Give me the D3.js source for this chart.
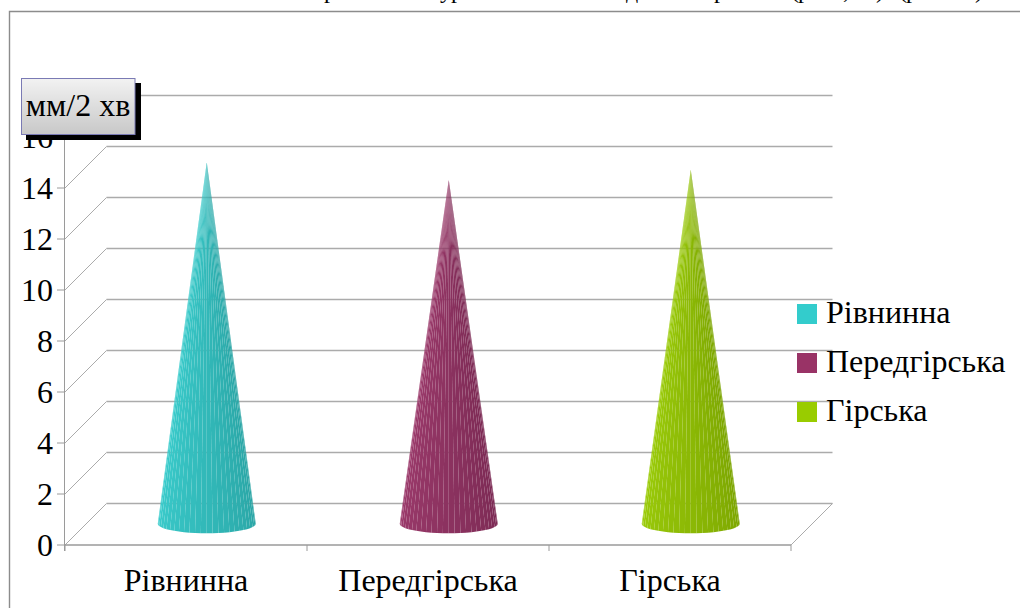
<!DOCTYPE html>
<html>
<head>
<meta charset="utf-8">
<script src="https://cdn.jsdelivr.net/npm/d3@7/dist/d3.min.js"></script>
<style>
html,body{margin:0;padding:0;background:#fff;overflow:hidden}
text{font-family:"Liberation Serif",serif;fill:#000}
</style>
</head>
<body>
<svg id="chart" width="1020" height="608"></svg>
<script>
// Chart content
const categories = ["Рівнинна", "Передгірська", "Гірська"];
const seriesNames = ["Рівнинна", "Передгірська", "Гірська"];
const seriesValues = [14.2, 13.5, 13.9];
const seriesColors = ["#33cccc", "#993366", "#99cc00"];
const yTicks = [0, 2, 4, 6, 8, 10, 12, 14, 16];
const unitLabel = "мм/2 хв";
// Heading runs off the top edge; only the lower strokes of these letters show
const headingLetters = ["р", "у", "р", "д", "р", "(", "р", ",", ")", "(", "р", ")"];

// 3D frame layout
const depth = 41.5;
const front = {left: 65, right: 791, bottom: 545, top: 137};
const coneRadius = 49, coneRy = 9.5, facetCount = 26;
const headingX = [324, 440, 451, 626, 714, 791, 798, 843, 876, 899, 906, 975];

const svg = d3.select("#chart");
const x = d3.scaleBand().domain(categories).range([front.left, front.right]);
const y = d3.scaleLinear().domain([0, 16]).range([front.bottom, front.top]);

// Heading and outer frame
svg.append("g").selectAll("text").data(headingLetters).join("text")
  .attr("x", (d, i) => headingX[i]).attr("y", -2)
  .attr("font-size", 24).text(d => d);
svg.append("path").attr("d", "M9.5,608V11.5H1020")
  .attr("fill", "none").attr("stroke", "#8c8c8c").attr("stroke-width", 1.4);

// Back wall gridlines and the diagonals that join them to the value axis
const grid = svg.append("g").attr("fill", "none").attr("stroke", "#ababab");
grid.selectAll("path.back").data(yTicks).join("path").attr("class", "back")
  .attr("stroke-width", 1.4)
  .attr("d", d => `M${front.left + depth},${y(d) - depth}H${front.right + depth}`);
grid.selectAll("path.side").data(yTicks).join("path").attr("class", "side")
  .attr("stroke-width", 1)
  .attr("d", d => `M${front.left},${y(d)}l${depth},${-depth}`);
grid.append("path").attr("stroke-width", 1)
  .attr("d", `M${front.right},${front.bottom}l${depth},${-depth}`);

// Value axis, floor edge and tick marks
const axes = svg.append("g").attr("fill", "none").attr("stroke", "#9a9a9a");
axes.append("path").attr("stroke-width", 1)
  .attr("d", `M64.5,${front.top}V${front.bottom + 6}`);
axes.append("path").attr("stroke-width", 1.6)
  .attr("d", `M${front.left},${front.bottom}H${front.right}`);
axes.selectAll("path.ytick").data(yTicks).join("path").attr("class", "ytick")
  .attr("stroke-width", 1).attr("d", d => `M57,${y(d)}H64`);
const xEdges = categories.map(c => x(c)).concat(front.right);
axes.selectAll("path.xtick").data(xEdges).join("path").attr("class", "xtick")
  .attr("stroke-width", 1).attr("d", d => `M${d},${front.bottom}V${front.bottom + 6}`);

// Axis labels
svg.append("g").selectAll("text").data(yTicks).join("text")
  .attr("x", 53).attr("y", d => y(d) + 11).attr("text-anchor", "end")
  .attr("font-size", 32).text(d => d);
svg.append("g").selectAll("text").data(categories).join("text")
  .attr("x", d => x(d) + x.bandwidth() / 2).attr("y", 591)
  .attr("text-anchor", "middle").attr("font-size", 32).text(d => d);

// Cones are faceted: each facet gets its own shade, and antialiased seams show through
const defs = svg.append("defs");
const boxGrad = defs.append("linearGradient").attr("id", "boxFill")
  .attr("x1", 0).attr("y1", 0).attr("x2", 0).attr("y2", 1);
boxGrad.append("stop").attr("offset", 0).attr("stop-color", "#f2f2f2");
boxGrad.append("stop").attr("offset", 1).attr("stop-color", "#c8c8c8");

const shade = (base, t) => {
  const lighter = d3.interpolateRgb(base, "#ffffff")(0.04);
  const darker = d3.interpolateRgb(base, "#000000")(0.2);
  return d3.interpolateRgb(lighter, darker)(t);
};
const facetIdx = d3.range(facetCount);
const cones = svg.append("g").selectAll("g").data(seriesValues).join("g");
cones.each(function (v, k) {
  const cx = x(categories[k]) + x.bandwidth() / 2 + depth / 2;
  const cy = front.bottom - depth / 2 - 0.5;
  const tipY = y(v) - depth / 2;
  d3.select(this).selectAll("path").data(facetIdx).join("path")
    .attr("fill", i => shade(seriesColors[k], (i + 0.5) / facetCount))
    .attr("d", i => {
      // Walk the front half of the base ellipse from left to right
      const a0 = Math.PI * (1 - i / facetCount), a1 = Math.PI * (1 - (i + 1) / facetCount);
      const p = a => [cx + coneRadius * Math.cos(a), cy + coneRy * Math.sin(a)];
      const [x0, y0] = p(a0), [x1, y1] = p(a1);
      return `M${cx},${tipY}L${x0},${y0}L${x1},${y1}Z`;
    });
});

// Unit label box with hard shadow
svg.append("rect").attr("x", 26).attr("y", 83).attr("width", 115).attr("height", 57).attr("fill", "#000");
svg.append("rect").attr("x", 21.5).attr("y", 78.5).attr("width", 113.5).attr("height", 56)
  .attr("fill", "url(#boxFill)").attr("stroke", "#7a7ab4").attr("stroke-width", 1);
svg.append("text").attr("x", 78).attr("y", 116).attr("text-anchor", "middle")
  .attr("font-size", 32).text(unitLabel);

// Legend
const legendY = d3.scalePoint().domain(seriesNames).range([304, 402]);
const legend = svg.append("g").selectAll("g").data(seriesNames).join("g")
  .attr("transform", d => `translate(797,${legendY(d)})`);
legend.append("rect").attr("width", 20).attr("height", 20).attr("fill", (d, i) => seriesColors[i]);
legend.append("text").attr("x", 29).attr("y", 19).attr("font-size", 32).text(d => d);
</script>
</body>
</html>
